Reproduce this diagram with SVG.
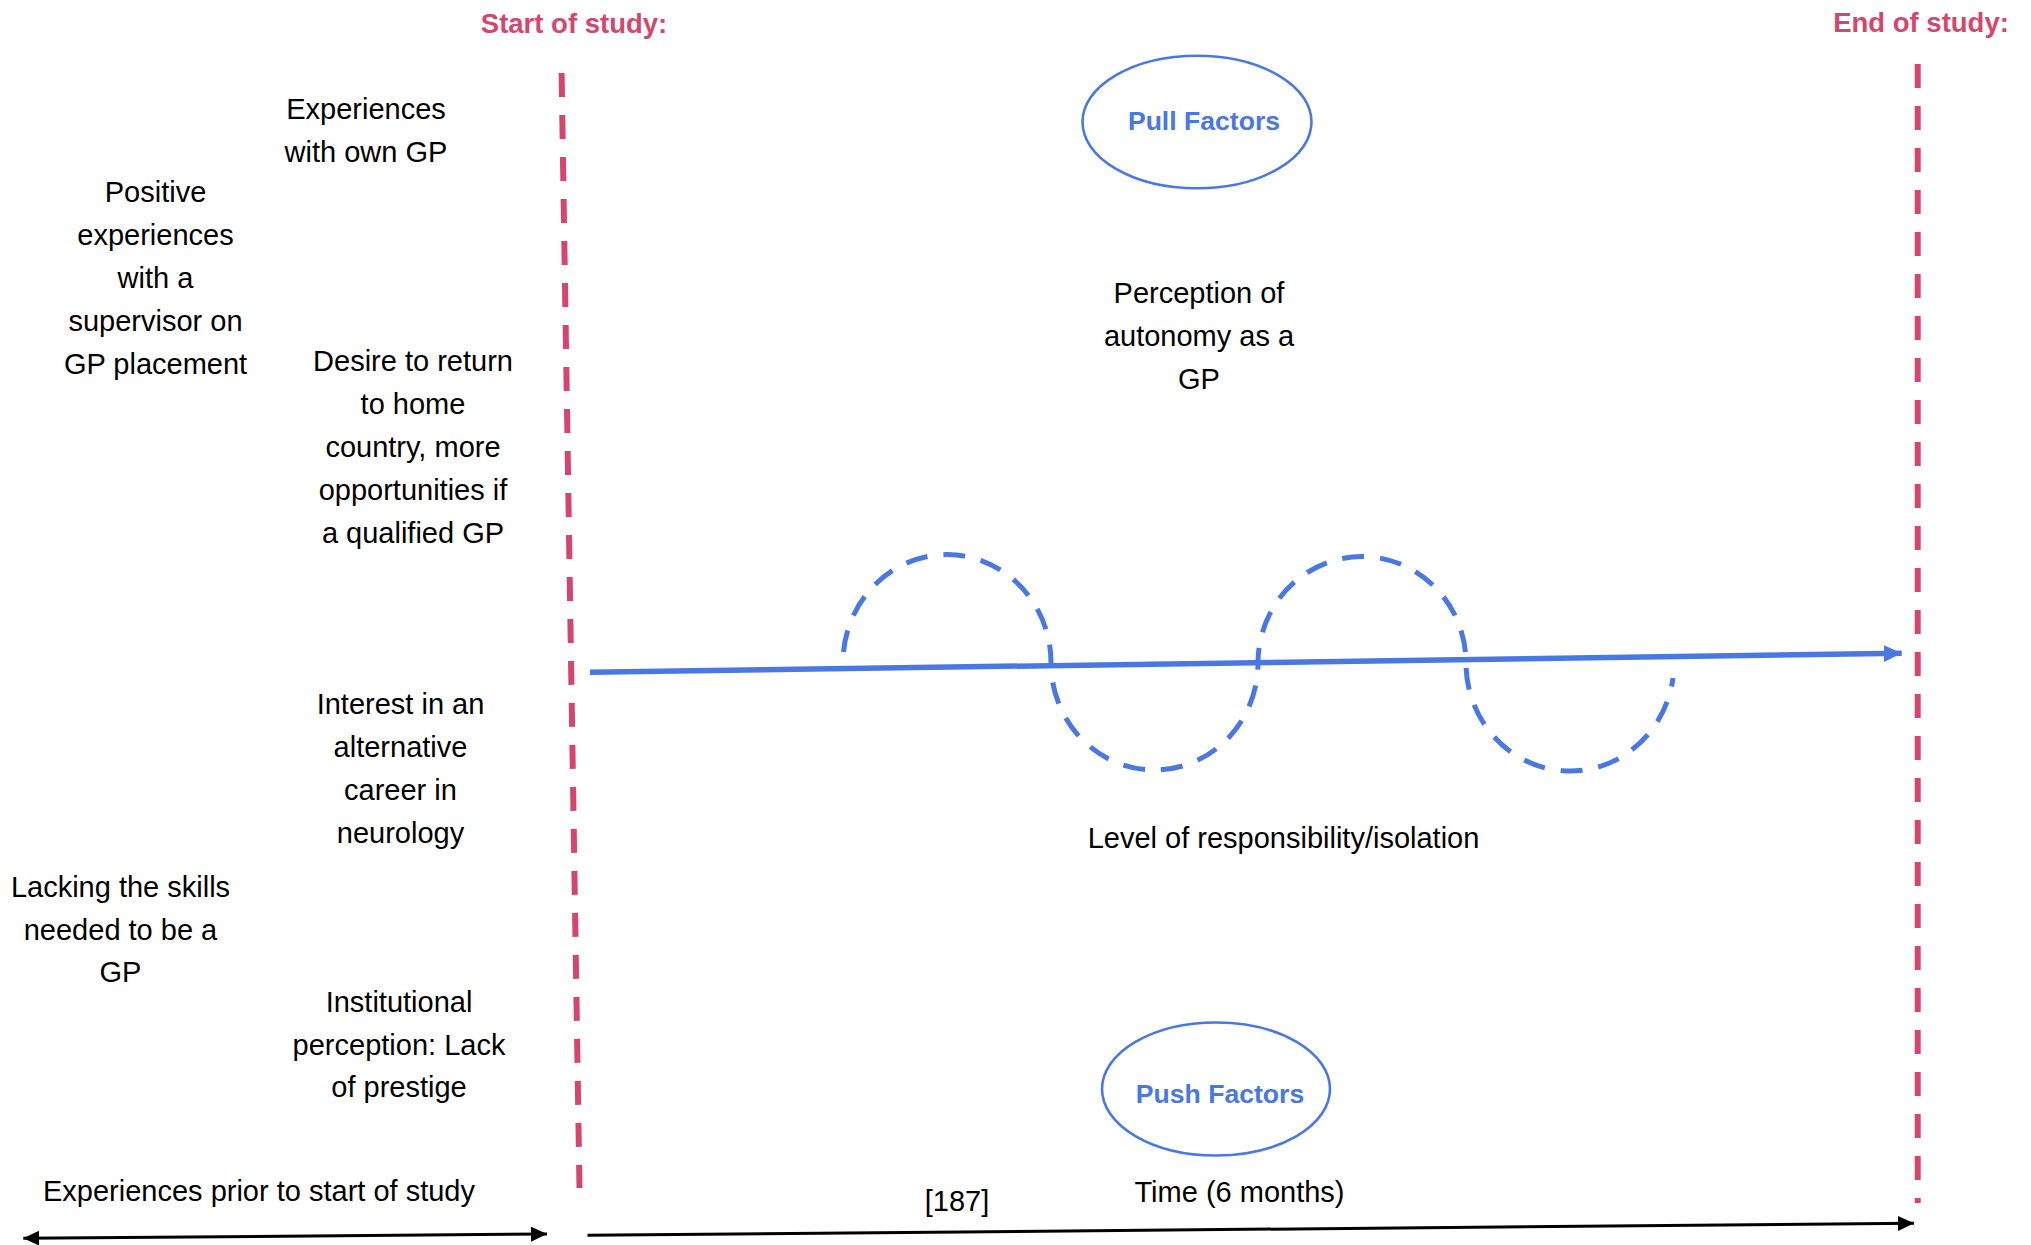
<svg xmlns="http://www.w3.org/2000/svg" width="2031" height="1245" viewBox="0 0 2031 1245">
  <style>
    .t { font-family: "Liberation Sans", Arial, sans-serif; font-size: 29px; fill: #000; text-anchor: middle; }
    .title { font-family: "Liberation Sans", Arial, sans-serif; font-size: 27.5px; font-weight: bold; fill: #D5466F; text-anchor: middle; }
    .factor { font-family: "Liberation Sans", Arial, sans-serif; font-size: 26.6px; font-weight: bold; fill: #4A78E3; text-anchor: middle; }
    .studyline { stroke: #D5466F; stroke-width: 6; stroke-dasharray: 24 18; fill: none; }
    .oval { fill: none; stroke: #4A78E3; stroke-width: 2.6; }
    .axis { stroke: #000; stroke-width: 3; fill: none; }
  </style>
  <defs>
    <marker id="blackHead" markerUnits="userSpaceOnUse" markerWidth="16" markerHeight="15" refX="16" refY="7.5" orient="auto-start-reverse">
      <path d="M0,0 L16,7.5 L0,15 Z" fill="#000"/>
    </marker>
    <marker id="blueHead" markerUnits="userSpaceOnUse" markerWidth="18" markerHeight="17" refX="18" refY="8.5" orient="auto">
      <path d="M0,0 L18,8.5 L0,17 Z" fill="#4A78E3"/>
    </marker>
  </defs>
  <rect width="2031" height="1245" fill="#fff"/>

  <g id="start-of-study">
    <text class="title" x="574" y="33">Start of study:</text>
    <line class="studyline" x1="561.6" y1="73" x2="579.5" y2="1188"/>
  </g>
  <g id="end-of-study">
    <text class="title" x="1921" y="32">End of study:</text>
    <line class="studyline" x1="1917.7" y1="64" x2="1917.7" y2="1203"/>
  </g>

  <g id="pull-factors">
    <ellipse class="oval" cx="1197" cy="122" rx="114.5" ry="66.3"/>
    <text class="factor" x="1204" y="130">Pull Factors</text>
  </g>
  <g id="push-factors">
    <ellipse class="oval" cx="1216" cy="1089" rx="114" ry="66.5"/>
    <text class="factor" x="1220" y="1102.5">Push Factors</text>
  </g>

  <g id="experiences-own-gp">
    <text class="t" x="366" y="119">Experiences<tspan x="366" dy="43">with own GP</tspan></text>
  </g>
  <g id="positive-experiences">
    <text class="t" x="155.5" y="202">Positive<tspan x="155.5" dy="43">experiences</tspan><tspan x="155.5" dy="43">with a</tspan><tspan x="155.5" dy="43">supervisor on</tspan><tspan x="155.5" dy="43">GP placement</tspan></text>
  </g>
  <g id="desire-return">
    <text class="t" x="413" y="371">Desire to return<tspan x="413" dy="43">to home</tspan><tspan x="413" dy="43">country, more</tspan><tspan x="413" dy="43">opportunities if</tspan><tspan x="413" dy="43">a qualified GP</tspan></text>
  </g>
  <g id="interest-neurology">
    <text class="t" x="400.5" y="714">Interest in an<tspan x="400.5" dy="43">alternative</tspan><tspan x="400.5" dy="43">career in</tspan><tspan x="400.5" dy="43">neurology</tspan></text>
  </g>
  <g id="lacking-skills">
    <text class="t" x="120.5" y="897">Lacking the skills<tspan x="120.5" dy="42.5">needed to be a</tspan><tspan x="120.5" dy="42.5">GP</tspan></text>
  </g>
  <g id="institutional-perception">
    <text class="t" x="399" y="1012">Institutional<tspan x="399" dy="42.7">perception: Lack</tspan><tspan x="399" dy="42.7">of prestige</tspan></text>
  </g>
  <g id="perception-autonomy">
    <text class="t" x="1199" y="303">Perception of<tspan x="1199" dy="43">autonomy as a</tspan><tspan x="1199" dy="43">GP</tspan></text>
  </g>
  <g id="level-responsibility">
    <text class="t" x="1283.5" y="848">Level of responsibility/isolation</text>
  </g>
  <g id="prior-experiences">
    <text class="t" x="259" y="1200.5">Experiences prior to start of study</text>
  </g>
  <g id="time-label">
    <text class="t" x="1239.5" y="1201.5">Time (6 months)</text>
  </g>
  <g id="citation">
    <text class="t" x="957" y="1211">[187]</text>
  </g>

  <g id="connectors">
    <path d="M843.5,652 A104 108 0 0 1 1051,663 A103.5 107 0 0 0 1258,663 A104 106.5 0 0 1 1466,663 A104 108 0 0 0 1673,678" fill="none" stroke="#4A78E3" stroke-width="5" stroke-dasharray="22 16"/>
    <line x1="590" y1="672.3" x2="1901.7" y2="653.3" stroke="#4A78E3" stroke-width="5.5" marker-end="url(#blueHead)"/>
    <line class="axis" x1="23.3" y1="1238.3" x2="547" y2="1234" marker-start="url(#blackHead)" marker-end="url(#blackHead)"/>
    <line class="axis" x1="587.5" y1="1235.3" x2="1914" y2="1223.3" marker-end="url(#blackHead)"/>
  </g>
</svg>
